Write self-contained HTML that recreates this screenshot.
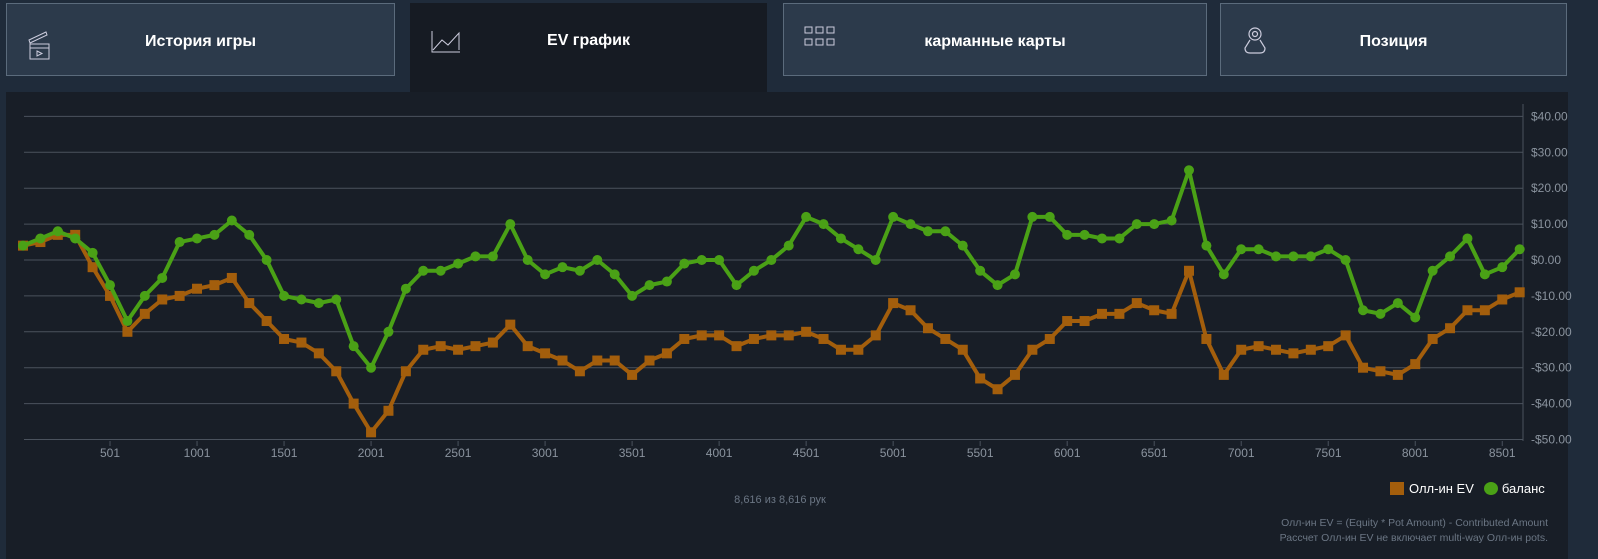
<!DOCTYPE html>
<html><head><meta charset="utf-8">
<style>
body{margin:0;width:1598px;height:559px;background:#1f2b3a;font-family:"Liberation Sans","DejaVu Sans",sans-serif;overflow:hidden;position:relative}
.tab{position:absolute;top:3px;height:73px;background:#2c3a4b;border:1px solid #5b6b7c;color:#fff;font-weight:bold;font-size:16px;box-sizing:border-box}
.tab span{position:absolute;top:38px;transform:translate(-50%,-50%);left:50%}
.tab svg{position:absolute;left:20px;top:22px}
.tab.active{background:#161b23;border:none;height:89px}
#panel{position:absolute;left:6px;top:92px;width:1562px;height:467px;background:#181e27}
</style></head><body>
<div class="tab" style="left:6px;width:389px">
<svg width="34" height="34" viewBox="0 0 34 34"><path d="M2 14 L19 6 L20 9 L3 17Z M3 18 H22 V33 H3Z M3 22 H22 M10 25 L15 27.5 L10 30Z" fill="none" stroke="#ccd" stroke-width="1"/></svg>
<span>История игры</span></div>
<div class="tab active" style="left:410px;width:357px">
<svg width="34" height="32" viewBox="0 0 34 32"><path d="M2 6 V27 H30 M3 25 L12 15 L18 20 L29 8 V25" fill="none" stroke="#ccd" stroke-width="1"/></svg>
<span>EV график</span></div>
<div class="tab" style="left:783px;width:424px">
<svg width="34" height="32" viewBox="0 0 34 32"><g fill="none" stroke="#ccd" stroke-width="1"><rect x="1" y="1" width="7" height="6"/><rect x="12" y="1" width="7" height="6"/><rect x="23" y="1" width="7" height="6"/><rect x="1" y="13" width="7" height="6"/><rect x="12" y="13" width="7" height="6"/><rect x="23" y="13" width="7" height="6"/></g></svg>
<span>карманные карты</span></div>
<div class="tab" style="left:1220px;width:347px">
<svg width="34" height="32" viewBox="0 0 34 32"><g fill="none" stroke="#ccd" stroke-width="1.2"><circle cx="14" cy="8" r="6"/><circle cx="14" cy="8" r="2.5"/><path d="M9 14 L4 22 Q4 27 9 27 H19 Q24 27 24 22 L19 14"/></g></svg>
<span>Позиция</span></div>
<div id="panel"></div>
<svg id="chart" width="1598" height="559" style="position:absolute;left:0;top:0"></svg>
<div style="position:absolute;left:0;width:1560px;top:494px;text-align:center;color:#6b7684;font-size:11px">8,616 из 8,616 рук</div>
<div style="position:absolute;left:1390px;top:481px;font-size:13px;color:#fff;display:flex;align-items:center">
<span style="display:inline-block;width:14px;height:13px;background:#a35e0c;margin-right:5px"></span><span>Олл-ин EV</span>
<span style="display:inline-block;width:14px;height:13px;border-radius:50%;background:#4aa116;margin:0 4px 0 10px"></span><span>баланс</span></div>
<div style="position:absolute;right:50px;top:516px;font-size:10.5px;color:#6b7684;text-align:right;line-height:15px">Олл-ин EV = (Equity * Pot Amount) - Contributed Amount<br>Рассчет Олл-ин EV не включает multi-way Олл-ин pots.</div>
<script>
const hands=[];for(let i=0;i<87;i++)hands.push(1+i*100);
const evValues=[4,5,7,7,-2,-10,-20,-15,-11,-10,-8,-7,-5,-12,-17,-22,-23,-26,-31,-40,-48,-42,-31,-25,-24,-25,-24,-23,-18,-24,-26,-28,-31,-28,-28,-32,-28,-26,-22,-21,-21,-24,-22,-21,-21,-20,-22,-25,-25,-21,-12,-14,-19,-22,-25,-33,-36,-32,-25,-22,-17,-17,-15,-15,-12,-14,-15,-3,-22,-32,-25,-24,-25,-26,-25,-24,-21,-30,-31,-32,-29,-22,-19,-14,-14,-11,-9];
const balanceValues=[4,6,8,6,2,-7,-17,-10,-5,5,6,7,11,7,0,-10,-11,-12,-11,-24,-30,-20,-8,-3,-3,-1,1,1,10,0,-4,-2,-3,0,-4,-10,-7,-6,-1,0,0,-7,-3,0,4,12,10,6,3,0,12,10,8,8,4,-3,-7,-4,12,12,7,7,6,6,10,10,11,25,4,-4,3,3,1,1,1,3,0,-14,-15,-12,-16,-3,1,6,-4,-2,3];
const yTicks=[40,30,20,10,0,-10,-20,-30,-40,-50];
const xTicks=[501,1001,1501,2001,2501,3001,3501,4001,4501,5001,5501,6001,6501,7001,7501,8001,8501];
const X=h=>23+(h-1)*0.17403, Y=v=>260-v*3.59;
const svg=document.getElementById('chart'),NS='http://www.w3.org/2000/svg';
function mk(t,a){const e=document.createElementNS(NS,t);for(const k in a)e.setAttribute(k,a[k]);svg.appendChild(e);return e;}
yTicks.forEach(v=>{
 const l=mk('line',{x1:24,x2:1523,y1:Y(v),y2:Y(v),stroke:'#4a525d','stroke-width':1});
 
 
 const t=mk('text',{x:1531,y:Y(v)+4,fill:'#8a939e','font-size':12});
 t.textContent=(v<0?'-$':'$')+Math.abs(v).toFixed(2);
 
 
});
const ax=mk('line',{x1:1523,x2:1523,y1:104,y2:441,stroke:'#4a525d'});


xTicks.forEach(h=>{
 const tk=mk('line',{x1:X(h),x2:X(h),y1:441,y2:446,stroke:'#4a525d'});
 
 
 const t=mk('text',{x:X(h),y:457,fill:'#8a939e','font-size':12,'text-anchor':'middle'});
 t.textContent=h;
 
 
});
function series(vals,color,name,sq){
 const p=mk('polyline',{points:vals.map((v,i)=>X(hands[i])+','+Y(v)).join(' '),fill:'none',stroke:color,'stroke-width':4,'stroke-linejoin':'round'});
 
 
 vals.forEach((v,i)=>{
  const m=sq?mk('rect',{x:X(hands[i])-5,y:Y(v)-5,width:10,height:10,fill:color}):mk('circle',{cx:X(hands[i]),cy:Y(v),r:5,fill:color});
  
  
 });
}
series(evValues,'#a35e0c','allin-ev',true);
series(balanceValues,'#4aa116','balance',false);
</script>
</body></html>
